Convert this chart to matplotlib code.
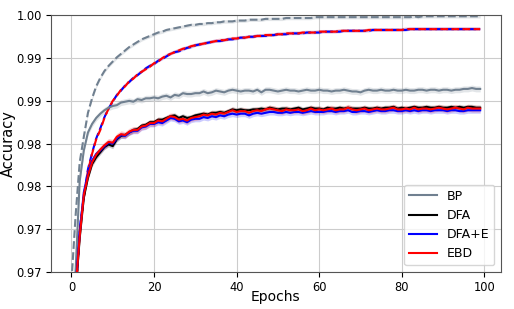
import numpy as np
import matplotlib
matplotlib.use("Agg")
import matplotlib.pyplot as plt

# accuracy per epoch (mean over runs)
epochs = list(range(100))

bp_test = [
    0.9600, 0.9700, 0.9806, 0.9842, 0.9863, 0.9873, 0.9880, 0.9885, 0.9889, 0.9892,
    0.9894, 0.9895, 0.9898, 0.9899, 0.9900, 0.9899, 0.9902, 0.9901, 0.9903, 0.9903,
    0.9904, 0.9903, 0.9905, 0.9906, 0.9904, 0.9907, 0.9906, 0.9909, 0.9908, 0.9908,
    0.9909, 0.9909, 0.9911, 0.9909, 0.9910, 0.9912, 0.9911, 0.9910, 0.9912, 0.9913,
    0.9912, 0.9911, 0.9912, 0.9912, 0.9911, 0.9913, 0.9910, 0.9913, 0.9913, 0.9912,
    0.9911, 0.9912, 0.9913, 0.9912, 0.9912, 0.9911, 0.9912, 0.9913, 0.9912, 0.9912,
    0.9913, 0.9912, 0.9912, 0.9911, 0.9912, 0.9912, 0.9913, 0.9912, 0.9911, 0.9911,
    0.9910, 0.9912, 0.9913, 0.9912, 0.9912, 0.9913, 0.9912, 0.9912, 0.9913, 0.9912,
    0.9912, 0.9913, 0.9912, 0.9912, 0.9913, 0.9913, 0.9912, 0.9913, 0.9913, 0.9912,
    0.9913, 0.9913, 0.9912, 0.9913, 0.9913, 0.9914, 0.9914, 0.9915, 0.9914, 0.9914,
]
bp_train = [
    0.9688, 0.9765, 0.9828, 0.9858, 0.9886, 0.9903, 0.9917, 0.9927, 0.9935, 0.9941,
    0.9946, 0.9951, 0.9955, 0.9959, 0.9963, 0.9966, 0.9969, 0.9972, 0.9974, 0.9976,
    0.9978, 0.9980, 0.9981, 0.9983, 0.9984, 0.9985, 0.9986, 0.9987, 0.9988, 0.9989,
    0.9989, 0.9990, 0.9990, 0.9991, 0.9991, 0.9992, 0.9992, 0.9993, 0.9993, 0.9993,
    0.9994, 0.9994, 0.9994, 0.9995, 0.9995, 0.9995, 0.9995, 0.9996, 0.9996, 0.9996,
    0.9996, 0.9996, 0.9997, 0.9997, 0.9997, 0.9997, 0.9997, 0.9997, 0.9997, 0.9998,
    0.9998, 0.9998, 0.9998, 0.9998, 0.9998, 0.9998, 0.9998, 0.9998, 0.9998, 0.9998,
    0.9998, 0.9998, 0.9998, 0.9998, 0.9998, 0.9998, 0.9998, 0.9998, 0.9998, 0.9998,
    0.9998, 0.9998, 0.9998, 0.9999, 0.9998, 0.9999, 0.9999, 0.9999, 0.9999, 0.9999,
    0.9999, 0.9999, 0.9999, 0.9999, 0.9999, 0.9999, 0.9999, 0.9999, 0.9999, 0.9999,
]
dfa_test = [
    0.9555, 0.9676, 0.9739, 0.9787, 0.9810, 0.9826, 0.9834, 0.9840, 0.9846, 0.9849,
    0.9847, 0.9855, 0.9859, 0.9860, 0.9863, 0.9866, 0.9867, 0.9871, 0.9872, 0.9875,
    0.9875, 0.9878, 0.9878, 0.9880, 0.9882, 0.9883, 0.9880, 0.9882, 0.9880, 0.9881,
    0.9883, 0.9884, 0.9885, 0.9884, 0.9886, 0.9886, 0.9887, 0.9886, 0.9888, 0.9890,
    0.9889, 0.9890, 0.9889, 0.9889, 0.9890, 0.9890, 0.9891, 0.9890, 0.9892, 0.9891,
    0.9890, 0.9891, 0.9891, 0.9890, 0.9891, 0.9892, 0.9890, 0.9891, 0.9892, 0.9891,
    0.9891, 0.9890, 0.9892, 0.9891, 0.9891, 0.9892, 0.9891, 0.9892, 0.9891, 0.9891,
    0.9891, 0.9892, 0.9891, 0.9891, 0.9892, 0.9891, 0.9892, 0.9892, 0.9893, 0.9891,
    0.9892, 0.9891, 0.9892, 0.9893, 0.9892, 0.9892, 0.9893, 0.9892, 0.9892, 0.9893,
    0.9892, 0.9892, 0.9893, 0.9892, 0.9893, 0.9892, 0.9893, 0.9893, 0.9892, 0.9892,
]
dfae_test = [
    0.9565, 0.9682, 0.9745, 0.9793, 0.9815, 0.9830, 0.9838, 0.9842, 0.9847, 0.9851,
    0.9850, 0.9856, 0.9860, 0.9859, 0.9863, 0.9865, 0.9865, 0.9869, 0.9870, 0.9873,
    0.9873, 0.9875, 0.9874, 0.9877, 0.9880, 0.9879, 0.9876, 0.9877, 0.9875, 0.9878,
    0.9879, 0.9879, 0.9881, 0.9880, 0.9882, 0.9881, 0.9883, 0.9882, 0.9884, 0.9885,
    0.9884, 0.9885, 0.9885, 0.9883, 0.9885, 0.9886, 0.9885, 0.9886, 0.9887, 0.9887,
    0.9886, 0.9886, 0.9887, 0.9886, 0.9887, 0.9887, 0.9886, 0.9887, 0.9888, 0.9887,
    0.9887, 0.9887, 0.9888, 0.9888, 0.9887, 0.9888, 0.9888, 0.9889, 0.9887, 0.9887,
    0.9888, 0.9888, 0.9887, 0.9888, 0.9889, 0.9888, 0.9888, 0.9889, 0.9889, 0.9888,
    0.9888, 0.9889, 0.9888, 0.9889, 0.9888, 0.9889, 0.9889, 0.9888, 0.9889, 0.9889,
    0.9889, 0.9888, 0.9889, 0.9889, 0.9888, 0.9888, 0.9889, 0.9889, 0.9889, 0.9889,
]
ebd_test = [
    0.9560, 0.9679, 0.9741, 0.9790, 0.9812, 0.9828, 0.9837, 0.9843, 0.9848, 0.9852,
    0.9851, 0.9858, 0.9861, 0.9860, 0.9864, 0.9866, 0.9866, 0.9870, 0.9871, 0.9874,
    0.9874, 0.9877, 0.9876, 0.9879, 0.9882, 0.9881, 0.9878, 0.9879, 0.9877, 0.9880,
    0.9881, 0.9882, 0.9884, 0.9883, 0.9885, 0.9884, 0.9886, 0.9885, 0.9887, 0.9889,
    0.9887, 0.9888, 0.9888, 0.9886, 0.9888, 0.9889, 0.9888, 0.9890, 0.9891, 0.9890,
    0.9889, 0.9888, 0.9890, 0.9889, 0.9889, 0.9890, 0.9888, 0.9889, 0.9891, 0.9889,
    0.9890, 0.9889, 0.9890, 0.9891, 0.9889, 0.9890, 0.9890, 0.9892, 0.9890, 0.9889,
    0.9890, 0.9891, 0.9889, 0.9890, 0.9891, 0.9890, 0.9890, 0.9891, 0.9892, 0.9890,
    0.9890, 0.9891, 0.9890, 0.9892, 0.9890, 0.9891, 0.9891, 0.9890, 0.9891, 0.9892,
    0.9891, 0.9890, 0.9891, 0.9892, 0.9891, 0.9890, 0.9892, 0.9891, 0.9891, 0.9891,
]
dfae_train = [
    0.9552, 0.9668, 0.9750, 0.9788, 0.9820, 0.9839, 0.9856, 0.9868, 0.9881, 0.9891,
    0.9899, 0.9907, 0.9912, 0.9918, 0.9922, 0.9927, 0.9930, 0.9934, 0.9938, 0.9941,
    0.9943, 0.9947, 0.9949, 0.9952, 0.9955, 0.9957, 0.9958, 0.9960, 0.9962, 0.9963,
    0.9965, 0.9966, 0.9967, 0.9968, 0.9969, 0.9970, 0.9970, 0.9971, 0.9972, 0.9972,
    0.9973, 0.9974, 0.9974, 0.9975, 0.9975, 0.9976, 0.9976, 0.9976, 0.9977, 0.9977,
    0.9978, 0.9978, 0.9978, 0.9979, 0.9979, 0.9979, 0.9979, 0.9980, 0.9980, 0.9980,
    0.9980, 0.9981, 0.9981, 0.9981, 0.9981, 0.9981, 0.9982, 0.9982, 0.9982, 0.9982,
    0.9982, 0.9982, 0.9982, 0.9983, 0.9983, 0.9983, 0.9983, 0.9983, 0.9983, 0.9983,
    0.9983, 0.9983, 0.9984, 0.9984, 0.9984, 0.9984, 0.9984, 0.9984, 0.9984, 0.9984,
    0.9984, 0.9984, 0.9984, 0.9984, 0.9984, 0.9984, 0.9984, 0.9984, 0.9984, 0.9984,
]
ebd_train = [
    0.9550, 0.9665, 0.9748, 0.9786, 0.9818, 0.9838, 0.9855, 0.9866, 0.9880, 0.9891,
    0.9900, 0.9906, 0.9913, 0.9917, 0.9923, 0.9926, 0.9931, 0.9934, 0.9937, 0.9940,
    0.9944, 0.9946, 0.9950, 0.9953, 0.9955, 0.9957, 0.9959, 0.9961, 0.9962, 0.9964,
    0.9965, 0.9966, 0.9967, 0.9968, 0.9969, 0.9970, 0.9971, 0.9971, 0.9972, 0.9973,
    0.9973, 0.9974, 0.9974, 0.9975, 0.9975, 0.9976, 0.9976, 0.9977, 0.9977, 0.9977,
    0.9978, 0.9978, 0.9979, 0.9979, 0.9979, 0.9979, 0.9980, 0.9980, 0.9980, 0.9980,
    0.9981, 0.9981, 0.9981, 0.9981, 0.9981, 0.9982, 0.9982, 0.9982, 0.9982, 0.9982,
    0.9982, 0.9982, 0.9983, 0.9983, 0.9983, 0.9983, 0.9983, 0.9983, 0.9983, 0.9983,
    0.9983, 0.9984, 0.9984, 0.9984, 0.9984, 0.9984, 0.9984, 0.9984, 0.9984, 0.9984,
    0.9984, 0.9984, 0.9984, 0.9984, 0.9984, 0.9984, 0.9984, 0.9984, 0.9984, 0.9984,
]

# spread across runs (shaded band half-width)
bp_std = 0.00035
dfa_std = 0.0003
dfae_std = 0.00035
ebd_std = 0.0004
train_std = 0.0002

y_ticks = [0.970, 0.975, 0.980, 0.985, 0.990, 0.995, 1.000]
y_tick_labels = ["0.97", "0.97", "0.98", "0.98", "0.99", "0.99", "1.00"]

x = np.array(epochs)

fig = plt.figure(figsize=(5.14, 3.09), dpi=100)
ax = fig.add_axes([0.0992, 0.1207, 0.8748, 0.8293])


def band(y, s, color):
    y = np.array(y)
    ax.fill_between(x, y - s, y + s, color=color, alpha=0.2, lw=0)


# train curves (dashed)
band(bp_train, train_std, "slategray")
ax.plot(x, bp_train, color="slategray", lw=1.5, ls="--")
band(dfae_train, train_std, "blue")
ax.plot(x, dfae_train, color="blue", lw=1.5, ls=(2.5, (3.7, 1.6)))
band(ebd_train, train_std, "red")
ax.plot(x, ebd_train, color="red", lw=1.5, ls="--")

# test curves (solid)
band(bp_test, bp_std, "slategray")
ax.plot(x, bp_test, color="slategray", lw=1.5, label="BP")
band(dfa_test, dfa_std, "black")
ax.plot(x, dfa_test, color="black", lw=1.5, label="DFA")
band(dfae_test, dfae_std, "blue")
ax.plot(x, dfae_test, color="blue", lw=1.5, label="DFA+E")
band(ebd_test, ebd_std, "red")
ax.plot(x, ebd_test, color="red", lw=1.5, label="EBD")

ax.set_ylim(0.97, 1.0)
ax.set_xlim(-4.95, 103.95)
ax.set_yticks(y_ticks)
ax.set_yticklabels(y_tick_labels)
ax.tick_params(labelsize=8.3, pad=3)
ax.grid(True, color="#cccccc", lw=0.8)
ax.set_axisbelow(True)
for sp in ax.spines.values():
    sp.set_color("#555555")

ax.set_xlabel("Epochs", fontsize=10)
ax.set_ylabel("Accuracy", fontsize=10.5)
ax.xaxis.set_label_coords(0.5, -0.099)
ax.yaxis.set_label_coords(-0.094, 0.5)
ax.xaxis.label.set_va("center")
ax.yaxis.label.set_va("center")
ax.legend(loc="lower right", fontsize=9, handlelength=2.2)

fig.savefig("out.png", dpi=100, facecolor="white")
